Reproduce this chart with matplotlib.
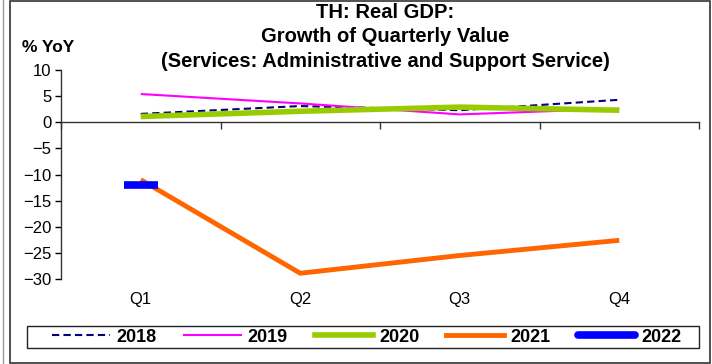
import numpy as np
import matplotlib
matplotlib.use("Agg")
import matplotlib.pyplot as plt
from matplotlib.patches import Rectangle
from matplotlib.lines import Line2D

plt.rcParams['font.family'] = ['Liberation Sans', 'DejaVu Sans']

quarters = ["Q1", "Q2", "Q3", "Q4"]
y2018 = [1.6, 3.1, 2.3, 4.3]
y2019 = [5.4, 3.6, 1.5, 2.6]
y2020 = [1.1, 2.1, 2.9, 2.3]
y2021 = [-11.0, -28.9, -25.5, -22.6]
y2022 = [-12.1]

series = [
    ("2018", y2018, dict(color="#000080", lw=1.5, ls=(0, (3.5, 2)))),
    ("2019", y2019, dict(color="#FF00FF", lw=1.5)),
    ("2020", y2020, dict(color="#99CC00", lw=4)),
    ("2021", y2021, dict(color="#FF6600", lw=3.5)),
]

fig = plt.figure(figsize=(7.12, 3.64), dpi=100)
ax = fig.add_axes([61 / 712, 1 - 279 / 364, 638 / 712, 209 / 364])

x = np.arange(1, len(quarters) + 1)
handles = []
for name, vals, st in series:
    ax.plot(x[:len(vals)], vals, solid_capstyle="butt", **st)
    handles.append(Line2D([], [], **st))

# 2022 has only one point -> short thick bar
ax.plot(x[:len(y2022)], y2022, marker="_", ms=24, mew=5.5, color="#0000FF", ls="none")
handles.append(Line2D([], [], color="#0000FF", lw=5.5, solid_capstyle="round"))

ax.set_xlim(0.5, 4.5)
ax.set_ylim(-30, 10)
ax.set_yticks(np.arange(-30, 11, 5))
ax.tick_params(axis="y", direction="out", length=4, width=1, labelsize=12, pad=3)

ax.spines["top"].set_visible(False)
ax.spines["right"].set_visible(False)
ax.spines["bottom"].set_position(("data", 0))
for s in ["left", "bottom"]:
    ax.spines[s].set_color("#333333")
    ax.spines[s].set_linewidth(1)

ax.set_xticks(np.arange(0.5, 4.6, 1))
ax.set_xticklabels([])
ax.tick_params(axis="x", direction="out", length=5, width=1, colors="#333333")
for xi, q in zip(x, quarters):
    ax.text(xi, -0.10, q, transform=ax.get_xaxis_transform(), ha="center", va="center", fontsize=12)

fig.text(385 / 712, 1 - 37 / 364,
         "TH: Real GDP:\nGrowth of Quarterly Value\n(Services: Administrative and Support Service)",
         ha="center", va="center", fontsize=14.5, fontweight="bold", linespacing=1.35)
fig.text(22 / 712, 1 - 47 / 364, "% YoY", ha="left", va="center", fontsize=12.5, fontweight="bold")

leg = fig.legend(handles, ["2018", "2019", "2020", "2021", "2022"],
                 loc="center", bbox_to_anchor=(367 / 712, 1 - 337 / 364),
                 ncol=5, frameon=False, borderaxespad=0,
                 handlelength=3.2, handletextpad=0.35, columnspacing=1.5,
                 prop=dict(weight="bold", size=13))

# legend box
fig.patches.append(Rectangle((27 / 712, 1 - 348 / 364), 672 / 712, 22 / 364, transform=fig.transFigure,
                             fill=False, edgecolor="#222222", lw=1))

# outer chart border
fig.patches.append(Rectangle((10 / 712, 1 / 364), 700 / 712, 362 / 364, transform=fig.transFigure,
                             fill=False, edgecolor="#333333", lw=1.2))
fig.lines.append(Line2D([3 / 712, 3 / 712], [0, 1], transform=fig.transFigure, color="#999999", lw=1))

fig.savefig("out.png", dpi=100)
